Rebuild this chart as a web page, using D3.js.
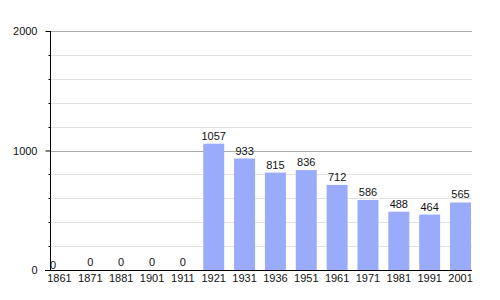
<!DOCTYPE html>
<html><head><meta charset="utf-8">
<script src="https://cdn.jsdelivr.net/npm/d3@7"></script>
<style>body{margin:0;background:#fff}svg{display:block;font-family:"Liberation Sans",Arial,sans-serif}</style>
</head><body><svg id="c" width="500" height="300"></svg>
<script>
const years = ["1861","1871","1881","1901","1911","1921","1931","1936","1951","1961","1971","1981","1991","2001"];
const population = [0,0,0,0,0,1057,933,815,836,712,586,488,464,565];
const majorTicks = [0,1000,2000];
const minorTicks = [200,400,600,800,1200,1400,1600,1800];

(function(){
const svg = d3.select("#c");
const mLeft = 50, mRight = 471, mTop = 31, mBottom = 270;
const x = d3.scaleBand().domain(years).range([mLeft - 1, mRight]).paddingInner(0.32).paddingOuter(0);
const y = d3.scaleLinear().domain([0, 2000]).range([mBottom, mTop]);

// minor gridlines
svg.append("g").selectAll("line").data(minorTicks).join("line")
  .attr("x1", mLeft).attr("x2", mRight + 1)
  .attr("y1", d => Math.round(y(d)) + 0.5).attr("y2", d => Math.round(y(d)) + 0.5)
  .attr("stroke", "#e2e2e2").attr("stroke-width", 1);
// major gridlines
svg.append("g").selectAll("line").data(majorTicks.filter(d => d > 0)).join("line")
  .attr("x1", mLeft).attr("x2", mRight + 1)
  .attr("y1", d => Math.round(y(d)) + 0.5).attr("y2", d => Math.round(y(d)) + 0.5)
  .attr("stroke", "#aaaaaa").attr("stroke-width", 1);

// bars
svg.append("g").selectAll("rect").data(population).join("rect")
  .attr("x", (d, i) => x(years[i]))
  .attr("width", x.bandwidth())
  .attr("y", d => y(d))
  .attr("height", d => mBottom - y(d))
  .attr("fill", "#9aabfb");

// value labels
svg.append("g").selectAll("text").data(population).join("text")
  .attr("x", (d, i) => i === 0 ? x(years[i]) + 1 : x(years[i]) + x.bandwidth() / 2)
  .attr("y", (d, i) => i === 0 ? y(d) - 1 : y(d) - 4)
  .attr("text-anchor", (d, i) => i === 0 ? "start" : "middle")
  .attr("font-size", 11).attr("fill", "#111")
  .text(d => d);

// y axis
const yAxis = svg.append("g").attr("transform", `translate(${mLeft + 0.5},0)`)
  .call(d3.axisLeft(y).tickValues(majorTicks).tickSize(5).tickPadding(8).tickFormat(d3.format("d")));
yAxis.select(".domain").attr("stroke", "#000").attr("d", `M0,${mTop}V${mBottom}`);
yAxis.selectAll(".tick line").attr("stroke", "#000");
yAxis.selectAll(".tick text").attr("font-size", 11).attr("fill", "#111").attr("font-family", "Liberation Sans, Arial, sans-serif");
svg.append("g").attr("transform", `translate(${mLeft + 0.5},0)`).selectAll("line").data(minorTicks).join("line")
  .attr("x1", -2).attr("x2", 0)
  .attr("y1", d => Math.round(y(d)) + 0.5).attr("y2", d => Math.round(y(d)) + 0.5)
  .attr("stroke", "#000");

// x axis
const xAxis = svg.append("g").attr("transform", `translate(0,${mBottom + 0.5})`)
  .call(d3.axisBottom(x).tickSize(0).tickPadding(4));
xAxis.select(".domain").attr("stroke", "#000").attr("d", `M${mLeft - 5},0H${mRight + 1}`);
xAxis.selectAll(".tick text").attr("font-size", 11).attr("fill", "#111").attr("font-family", "Liberation Sans, Arial, sans-serif");
})();
</script></body></html>
